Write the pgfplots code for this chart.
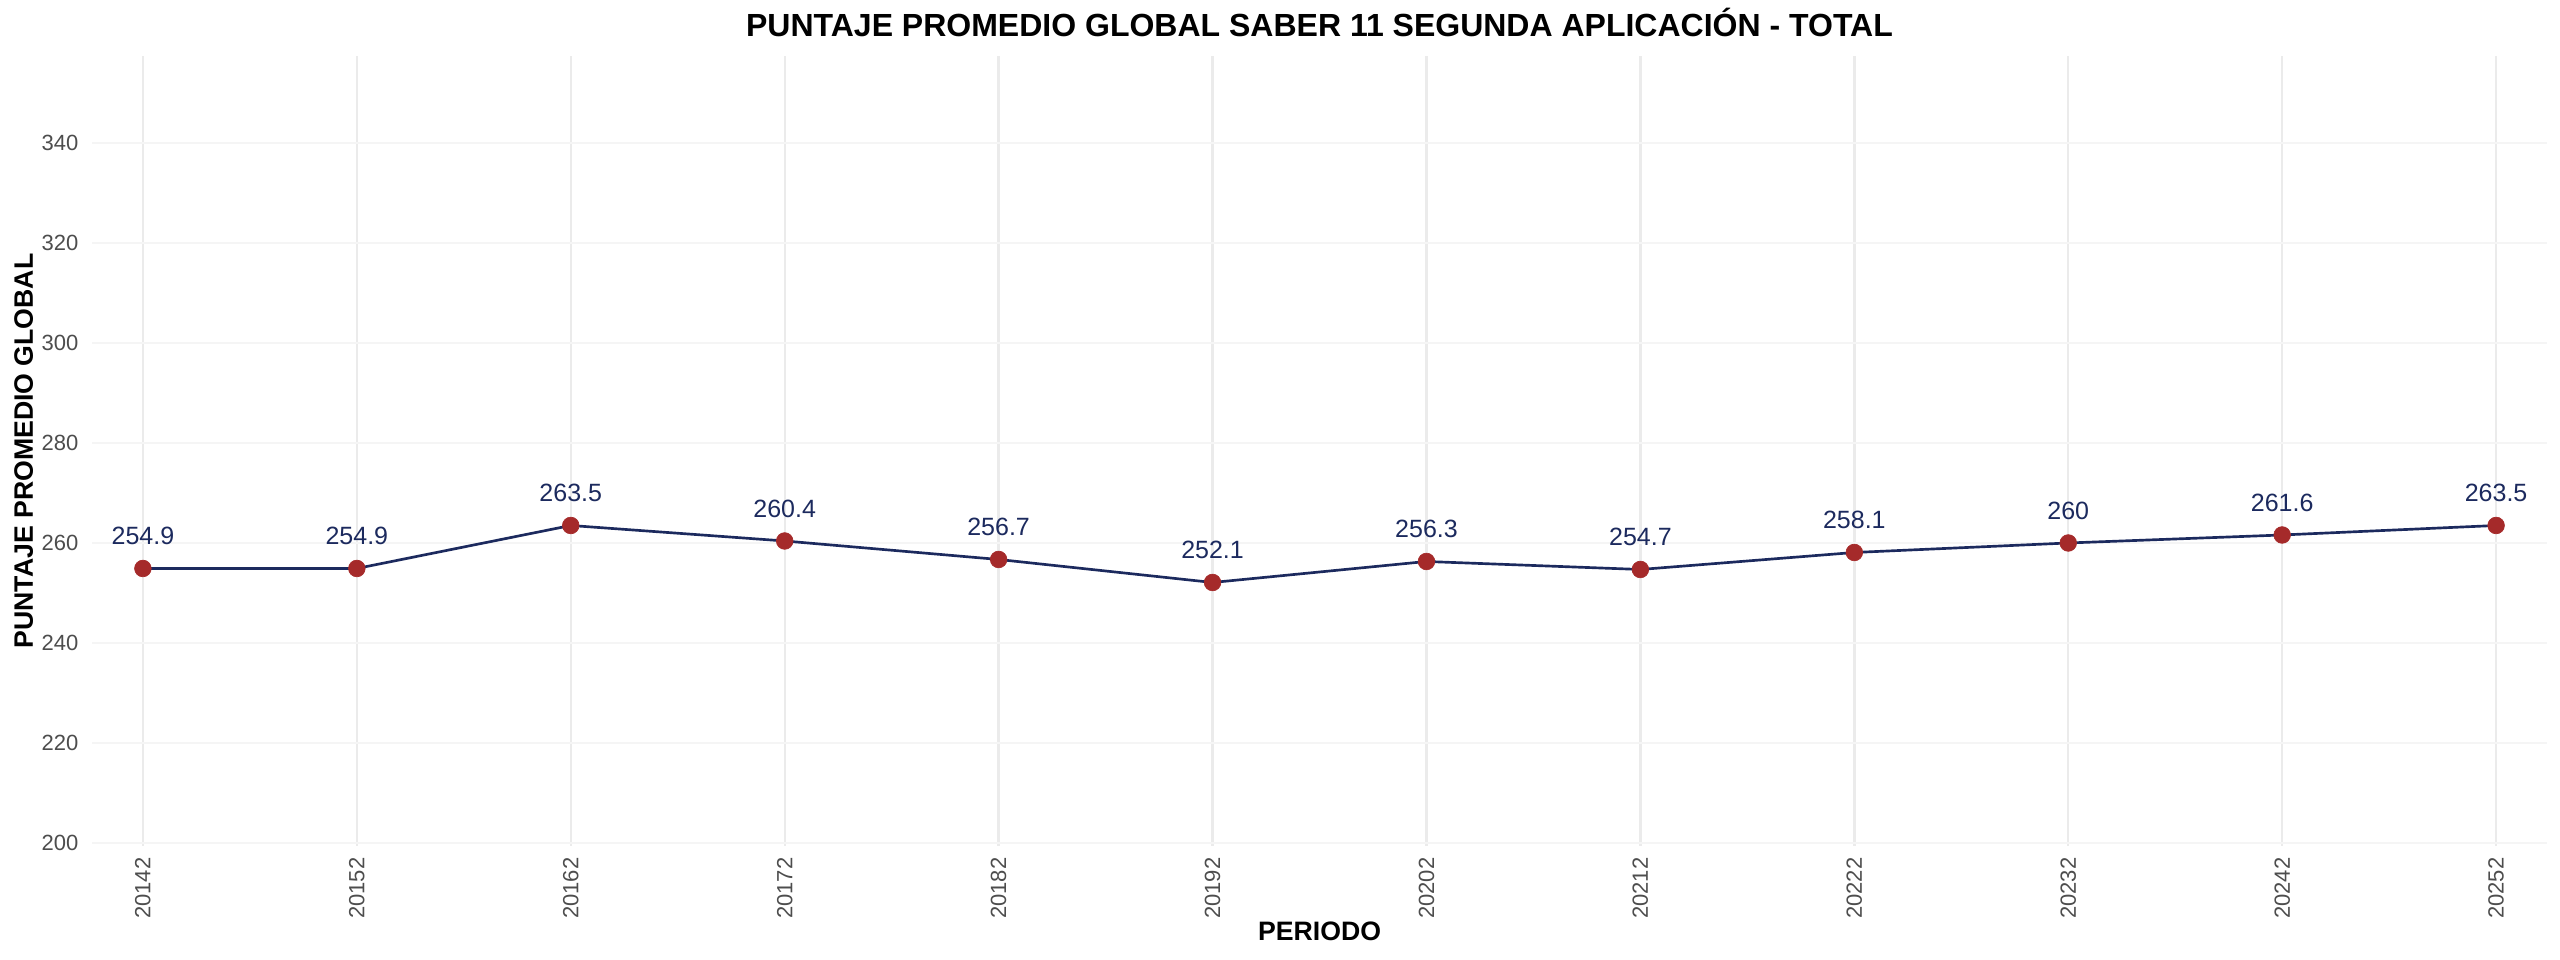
\documentclass[border=0pt]{standalone}
\usepackage{fontspec}
\setmainfont{Liberation Sans}
\usepackage{pgfplots}
\pgfplotsset{compat=1.18}

\definecolor{navyline}{HTML}{1C2A5E}
\definecolor{redpoint}{HTML}{A52A2A}
\definecolor{tickgray}{HTML}{4D4D4D}
\definecolor{vgrid}{HTML}{EBEBEB}
\definecolor{hgrid}{HTML}{F5F5F5}

\begin{document}
\begin{tikzpicture}
\useasboundingbox (0,0) rectangle (768pt,288pt);
\begin{axis}[
    at={(27.6pt,34.2pt)}, anchor=south west,
    scale only axis,
    width=736.5pt, height=237pt,
    xmin=-0.238, xmax=11.238,
    ymin=199.4, ymax=357.4,
    xtick={0,...,11},
    xticklabels={20142,20152,20162,20172,20182,20192,20202,20212,20222,20232,20242,20252},
    ytick={200,220,...,340},
    /pgf/number format/assume math mode=true,
    axis line style={draw=none},
    tick style={draw=none},
    xmajorgrids=true, ymajorgrids=true,
    x grid style={color=vgrid, line width=0.7pt},
    y grid style={color=hgrid, line width=0.6pt},
    ticklabel style={font=\fontsize{6.6}{7}\selectfont, text=tickgray},
    xticklabel style={rotate=90, anchor=east, inner xsep=3.3pt, inner ysep=0pt},
    yticklabel style={anchor=east, inner xsep=3.9pt, inner ysep=0pt},
    every axis title shift=0pt,
    title={PUNTAJE PROMEDIO GLOBAL SABER 11 SEGUNDA APLICACIÓN - TOTAL},
    title style={at={(axis description cs:0.5,1.02405)}, anchor=base,
        font=\fontsize{9.6}{11}\bfseries, inner sep=0pt},
    xlabel={PERIODO},
    xlabel style={at={(axis description cs:0.5,-0.12025)}, anchor=base,
        font=\fontsize{8}{9}\bfseries, inner sep=0pt},
    ylabel={PUNTAJE PROMEDIO GLOBAL},
    ylabel style={at={(axis description cs:-0.02403,0.5)}, anchor=base, rotate=0,
        font=\fontsize{8}{9}\bfseries, inner sep=0pt},
    clip=false,
]
\addplot[
    color=navyline, line width=0.8pt,
    mark=*, mark size=2.5pt,
    mark options={solid, fill=redpoint, draw=redpoint, line width=0.2pt},
    nodes near coords={\pgfmathprintnumber[fixed,precision=1]{\pgfplotspointmeta}},
    every node near coord/.append style={font=\fontsize{7.5}{8}\selectfont,
        text=navyline, inner sep=0pt, yshift=6.9pt},
    ]
    coordinates {
    (0,254.9)(1,254.9)(2,263.5)(3,260.4)(4,256.7)(5,252.1)
    (6,256.3)(7,254.7)(8,258.1)(9,260.0)(10,261.6)(11,263.5)
    };
\end{axis}
\end{tikzpicture}
\end{document}
